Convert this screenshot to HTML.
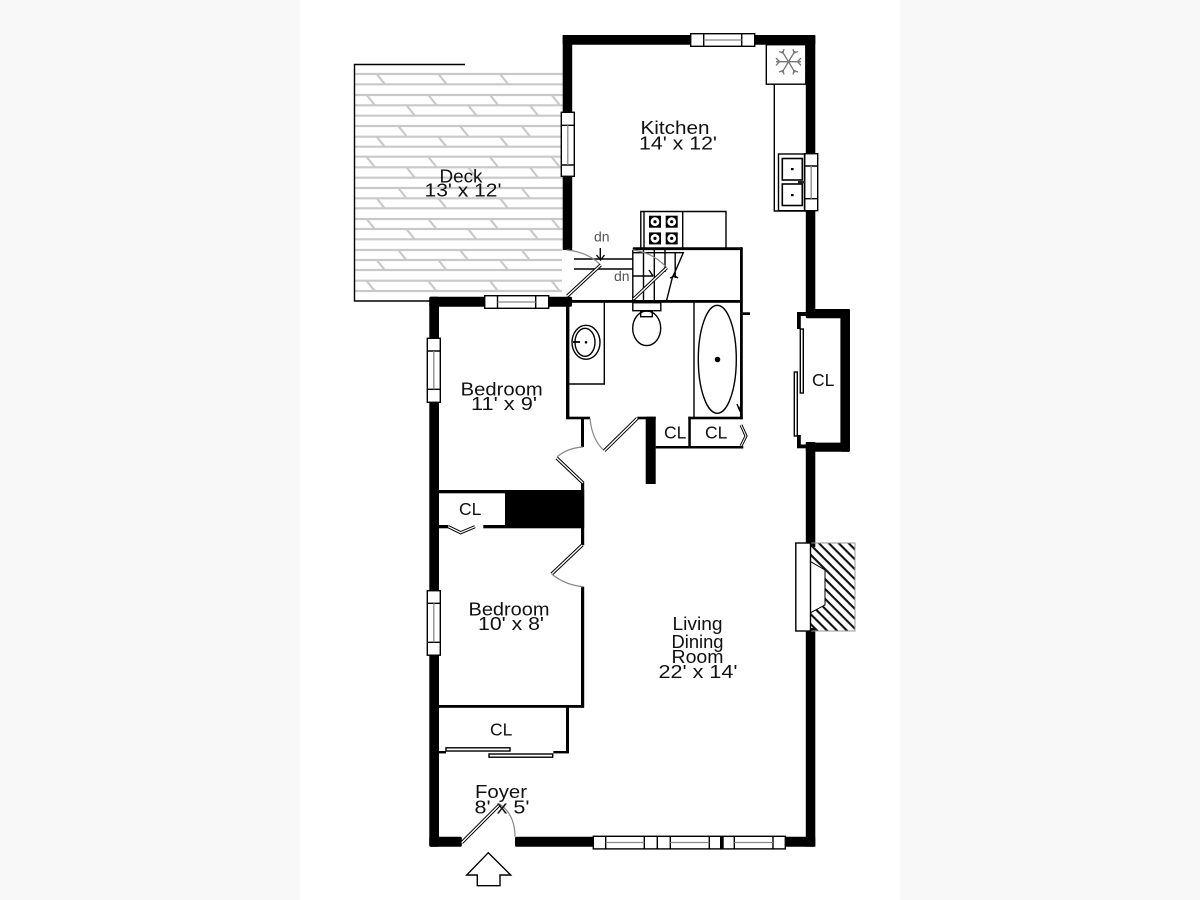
<!DOCTYPE html>
<html><head><meta charset="utf-8"><title>Floor plan</title>
<style>
html,body{margin:0;padding:0;background:#f8f8f8;width:1200px;height:900px;overflow:hidden}
svg{display:block;filter:blur(.3px)}
text{font-family:"Liberation Sans",sans-serif;font-size:18.5px;fill:#111;text-anchor:middle}
.cl{font-size:17.5px;text-anchor:start}
.dn{font-size:14px;fill:#555;text-anchor:start}
.t{fill:none;stroke:#000;stroke-width:1.4}
.a{fill:none;stroke:#888;stroke-width:1.2}
.w{fill:#fff;stroke:#000;stroke-width:1.4}
.g{stroke:#c9c9c9;stroke-width:2.2;fill:none}
</style></head><body>
<svg width="1200" height="900" viewBox="0 0 1200 900" xmlns="http://www.w3.org/2000/svg">
<defs>
<pattern id="h" width="7" height="7" patternUnits="userSpaceOnUse" patternTransform="rotate(45)"><rect width="7" height="2.1" fill="#111"/></pattern>
</defs>
<rect x="0" y="0" width="1200" height="900" fill="#f8f8f8"/>
<rect x="300" y="0" width="600" height="900" fill="#fff"/>

<!-- deck boards -->
<path class="g" d="M355 74H563M355 84.3H563M355 95H563M355 105.3H563M355 115.7H563M355 126H563M355 136.7H563M355 146.7H563M355 156.7H563M355 167.3H563M355 177.7H563M355 188H563M355 198.3H563M355 208.3H563M355 219H563M355 229H563M355 239.3H563M355 250H562M355 260H562M355 270H562M355 280.7H562M355 291H562"/>
<path class="g" d="M376.7 74l8 10M438.4 74l8 10M500 74l8 10
M366.7 95l8 10M428.4 95l8 10M490 95l8 10M551.7 95l8 10
M406.7 105.5l8 10M468.4 105.5l8 10M530 105.5l8 10
M398.3 126l8 10M460 126l8 10M521.7 126l8 10
M376.7 136.7l8 10M438.4 136.7l8 10M500 136.7l8 10
M366.7 157l8 10M428.4 157l8 10M490 157l8 10M551.7 157l8 10
M406.7 167.5l8 10M468.4 167.5l8 10M530 167.5l8 10
M398.3 188l8 10M460 188l8 10M521.7 188l8 10
M376.7 198.3l8 10M438.4 198.3l8 10M500 198.3l8 10
M366.7 219l8 10M428.4 219l8 10M490 219l8 10M551.7 219l8 10
M406.7 229.3l8 10M468.4 229.3l8 10M530 229.3l8 10
M398.3 250l8 10M460 250l8 10M521.7 250l8 10
M376.7 260l8 10M438.4 260l8 10M500 260l8 10
M366.7 281l8 10M428.4 281l8 10M490 281l8 10M551.7 281l8 10"/>
<path class="t" d="M465 64.5H354.5V301H430"/>

<!-- thick walls -->
<g fill="#000">
<rect x="562.7" y="35" width="252.6" height="9.7" rx="1.5"/>
<rect x="562.7" y="35" width="9.5" height="215"/>
<rect x="805.8" y="35" width="9.5" height="276"/>
<rect x="805.8" y="309" width="44.2" height="9.2" rx="1.5"/>
<rect x="840.4" y="309" width="9.6" height="142.7" rx="1.5"/>
<rect x="805.8" y="442.6" width="44.2" height="9.2" rx="1.5"/>
<rect x="797" y="312" width="10" height="4"/>
<rect x="797" y="312" width="3.8" height="17"/>
<rect x="797" y="435" width="3.8" height="13"/>
<rect x="797" y="444.5" width="10" height="3.8"/>
<rect x="805.8" y="442" width="9.5" height="105"/>
<rect x="805.8" y="628" width="9.5" height="218.7"/>
<rect x="429.3" y="836.8" width="32.5" height="9.9" rx="1.5"/>
<rect x="515" y="836.8" width="300.3" height="9.9" rx="1.5"/>
<rect x="429.3" y="296.7" width="9.7" height="550" rx="1.5"/>
<rect x="429.3" y="296.7" width="142.7" height="10" rx="1.5"/>
<circle cx="568" cy="301" r="4.5"/>
<!-- bath walls -->
<rect x="566" y="300" width="176.7" height="2.8"/>
<rect x="566" y="300" width="3.4" height="119"/>
<rect x="566" y="416.7" width="24" height="2.6"/>
<rect x="637.3" y="416.7" width="18.4" height="2.6"/>
<rect x="645.7" y="416.7" width="10" height="67.3"/>
<rect x="632.7" y="247.3" width="110" height="2.8" rx="1"/>
<rect x="740" y="247.3" width="2.8" height="172"/>
<rect x="742.7" y="312.3" width="7.3" height="2.7"/>
<rect x="688.3" y="416.7" width="54.4" height="2.6"/>
<rect x="688.3" y="416.7" width="2.5" height="31.6"/>
<rect x="655.7" y="446" width="87.6" height="2.5"/>
<!-- interior -->
<rect x="581" y="418" width="3" height="29"/>
<rect x="581" y="481.7" width="3.2" height="63.5"/>
<rect x="505" y="490" width="79.2" height="38.3"/>
<rect x="439" y="490" width="66" height="3.3"/>
<rect x="439" y="525" width="9.3" height="3.3"/>
<rect x="483.3" y="525" width="22" height="3.3"/>
<rect x="581" y="586.7" width="3.2" height="121"/>
<rect x="439" y="705" width="145" height="2.8"/>
<rect x="566" y="705" width="3" height="48.3"/>
<rect x="553.3" y="751" width="15.7" height="2.4"/>
<rect x="439" y="751" width="7" height="2.4"/>
</g>

<!-- windows -->
<g>
<rect class="w" x="690.7" y="33.7" width="64" height="12.6"/>
<path class="t" d="M703.7 33.7V46.3M741.7 33.7V46.3"/><path d="M703.7 40H741.7" stroke="#888" stroke-width="1.3"/>
<rect class="w" x="561.3" y="112.3" width="13" height="64"/>
<path class="t" d="M561.3 125.3H574.3M561.3 165H574.3"/><path d="M567.8 125.3V165" stroke="#888" stroke-width="1.3"/>
<rect class="w" x="804.7" y="153.7" width="13" height="57"/>
<path class="t" d="M804.7 166H817.7M804.7 198.7H817.7"/><path d="M811.2 166V198.7" stroke="#888" stroke-width="1.3"/>
<rect class="w" x="484.7" y="295.7" width="64" height="12.6"/>
<path class="t" d="M497.5 295.7V308.3M535.7 295.7V308.3"/><path d="M497.5 302H535.7" stroke="#888" stroke-width="1.3"/>
<rect class="w" x="427.3" y="338.3" width="13" height="64"/>
<path class="t" d="M427.3 351H440.3M427.3 389.3H440.3"/><path d="M433.8 351V389.3" stroke="#888" stroke-width="1.3"/>
<rect class="w" x="427.3" y="590.7" width="13" height="64.5"/>
<path class="t" d="M427.3 603.3H440.3M427.3 642.3H440.3"/><path d="M433.8 603.3V642.3" stroke="#888" stroke-width="1.3"/>
<rect class="w" x="593.3" y="836.3" width="192" height="12.6"/>
<path class="t" d="M605.7 836.3V848.9M644.3 836.3V848.9M657.3 836.3V848.9M670.3 836.3V848.9M709.3 836.3V848.9M720.7 836.3V848.9M723 836.3V848.9M734.3 836.3V848.9M773 836.3V848.9"/>
<path d="M605.7 842.5H644.3M670.3 842.5H709.3M734.3 842.5H773" stroke="#888" stroke-width="1.3"/>
<rect x="720.7" y="836.3" width="2.6" height="12.6" fill="#000"/>
</g>

<!-- kitchen fixtures -->
<rect class="t" x="766.3" y="44.7" width="39.5" height="39.5"/>
<g stroke="#777" stroke-width="1.3" fill="none">
<path d="M776 61.7H801M782 51L795 72.5M795 51L782 72.5"/>
<path d="M776 58l3.5 3.7-3.5 3.7M801 58l-3.5 3.7 3.5 3.7M779 51.5l4 1.5 1-4M798 51.5l-4 1.5-1-4M779 72l4-1.5 1 4M798 72l-4-1.5-1 4"/>
</g>
<path class="t" d="M774.3 84V211H806"/>
<rect class="t" x="778.5" y="154" width="26" height="56.7"/>
<rect x="782.3" y="158.5" width="20" height="21.5" fill="#fff" stroke="#000" stroke-width="1.6"/>
<rect x="782.3" y="184" width="20" height="21.5" fill="#fff" stroke="#000" stroke-width="1.6"/>
<rect x="791" y="168" width="2.6" height="2.2" fill="#000"/>
<rect x="791" y="194" width="2.6" height="2.2" fill="#000"/>
<rect x="798" y="181" width="7.5" height="2.4" fill="#222"/>
<!-- stove -->
<path class="t" d="M682.7 211.5H726V248M640.8 248V211.5H682.7V248M644 211.5V248"/>
<g fill="#000">
<rect x="649" y="215.7" width="12" height="12"/><rect x="665.7" y="215.7" width="12" height="12"/>
<rect x="649" y="232.4" width="12" height="12"/><rect x="665.7" y="232.4" width="12" height="12"/>
</g>
<g fill="#fff"><circle cx="655" cy="221.7" r="4.4"/><circle cx="671.7" cy="221.7" r="4.4"/><circle cx="655" cy="238.4" r="4.4"/><circle cx="671.7" cy="238.4" r="4.4"/></g>
<g fill="#000"><circle cx="655" cy="221.7" r="1.6"/><circle cx="671.7" cy="221.7" r="1.6"/><circle cx="655" cy="238.4" r="1.6"/><circle cx="671.7" cy="238.4" r="1.6"/></g>

<!-- stairs -->
<path class="t" d="M632.8 250V300M643.5 250V300M654.3 250V300M665 250V272M675.2 252V278M632.8 252.7H683.3L675 272 672.5 277 666.7 300"/>
<path class="t" d="M632.8 276H653M649 270l4 6M670 278l5-2 3 2"/>
<path class="t" d="M574 259H632.8M574 269H632.8M600.3 248V260M596.5 255l4 5 4-5"/>
<!-- deck door -->
<path class="a" d="M566.7 250Q588 252 600.7 265"/>
<path d="M567.3 296L600.7 265" stroke="#000" stroke-width="3.4"/><path d="M567.3 296L600.7 265" stroke="#fff" stroke-width="1.4"/>
<!-- stair door -->
<path class="a" d="M633 250Q654 253 666.7 267.7"/>
<path d="M633.3 299.3L666.7 267.7" stroke="#000" stroke-width="3.4"/><path d="M633.3 299.3L666.7 267.7" stroke="#fff" stroke-width="1.4"/>

<!-- bath -->
<path class="t" d="M604.3 302.5V384H569.3"/>
<path class="t" d="M694 302.5V417"/>
<ellipse class="t" cx="586" cy="342.3" rx="14" ry="17"/>
<ellipse class="t" cx="585" cy="342.3" rx="10" ry="14"/>
<circle cx="586" cy="342.3" r="1.3" fill="#000"/>
<path d="M573 342H580" stroke="#000" stroke-width="1.8"/>
<rect class="t" x="632.8" y="302.7" width="28" height="8" fill="#fff"/>
<rect class="t" x="640.7" y="311" width="11.6" height="5.7"/>
<ellipse class="t" cx="646.7" cy="328.3" rx="14" ry="17.3"/>
<ellipse class="t" cx="717.3" cy="359.3" rx="19" ry="54"/>
<circle cx="717.5" cy="359.5" r="2.8" fill="#000"/>
<path class="t" d="M737 404l2.5 6 1-4"/>

<!-- doors -->
<path class="a" d="M590 418.3Q592 440 604.3 450.7"/>
<path d="M604.3 450.7L637.3 418.3" stroke="#000" stroke-width="3.4"/><path d="M604.3 450.7L637.3 418.3" stroke="#fff" stroke-width="1.4"/>
<path class="a" d="M583 447Q567 448 557 457"/>
<path d="M556.7 458L583 483" stroke="#000" stroke-width="3.4"/><path d="M556.7 458L583 483" stroke="#fff" stroke-width="1.4"/>
<path d="M582.3 545L551.7 574" stroke="#000" stroke-width="3.4"/><path d="M582.3 545L551.7 574" stroke="#fff" stroke-width="1.4"/>
<path class="a" d="M551.7 574Q565 585 583 586.7"/>
<path d="M448.3 526.7L460.7 532.7 475 526.7" stroke="#000" stroke-width="3.2" fill="none"/><path d="M448.3 526.7L460.7 532.7 475 526.7" stroke="#fff" stroke-width="1.2" fill="none"/>
<path d="M741 425L746 436 741 446" stroke="#000" stroke-width="3" fill="none"/><path d="M741 425L746 436 741 446" stroke="#fff" stroke-width="1" fill="none"/>
<path d="M461.7 842.7L500 804.3" stroke="#000" stroke-width="3.4"/><path d="M461.7 842.7L500 804.3" stroke="#fff" stroke-width="1.4"/>
<path class="a" d="M500 804.3Q515 815 515 836.7"/>

<!-- sliding doors -->
<rect class="w" x="446" y="747.8" width="64" height="3.2"/>
<rect class="w" x="489" y="754" width="63.7" height="3.2"/>
<rect class="w" x="800.3" y="329" width="3" height="64" stroke-width="1.1"/>
<rect class="w" x="794.3" y="372" width="3" height="64" stroke-width="1.1"/>

<!-- fireplace -->
<rect x="810.3" y="542.7" width="44.7" height="88.6" fill="url(#h)"/>
<path d="M810.3 543H855V631H810.3" fill="none" stroke="#999" stroke-width="1"/>
<rect class="w" x="795.8" y="543" width="14.7" height="88"/>
<path d="M810.7 561.7L825 570V605L810.7 612.7Z" fill="#fff" stroke="#000" stroke-width="1"/>

<!-- entry arrow -->
<path d="M488.3 852.7L510.7 875H500V885.7H477.3V875H466.7Z" fill="#fff" stroke="#000" stroke-width="1.4"/>

<!-- labels -->
<text x="461" y="182.3" textLength="43" lengthAdjust="spacingAndGlyphs">Deck</text>
<text x="463" y="196.7" textLength="77" lengthAdjust="spacingAndGlyphs">13' x 12'</text>
<text x="675" y="134" textLength="69" lengthAdjust="spacingAndGlyphs">Kitchen</text>
<text x="678" y="149.3" textLength="78" lengthAdjust="spacingAndGlyphs">14' x 12'</text>
<text x="501.7" y="395.7" textLength="82" lengthAdjust="spacingAndGlyphs">Bedroom</text>
<text x="504" y="410" textLength="66" lengthAdjust="spacingAndGlyphs">11' x 9'</text>
<text x="509" y="615.7" textLength="81" lengthAdjust="spacingAndGlyphs">Bedroom</text>
<text x="511" y="630" textLength="66" lengthAdjust="spacingAndGlyphs">10' x 8'</text>
<text x="697.5" y="630" textLength="50" lengthAdjust="spacingAndGlyphs">Living</text>
<text x="697.5" y="648" textLength="52" lengthAdjust="spacingAndGlyphs">Dining</text>
<text x="697.5" y="663" textLength="52" lengthAdjust="spacingAndGlyphs">Room</text>
<text x="698" y="678" textLength="79" lengthAdjust="spacingAndGlyphs">22' x 14'</text>
<text x="501" y="798" textLength="52" lengthAdjust="spacingAndGlyphs">Foyer</text>
<text x="502" y="813.3" textLength="55" lengthAdjust="spacingAndGlyphs">8' x 5'</text>
<text class="cl" x="664" y="438.3">CL</text>
<text class="cl" x="705" y="438.3">CL</text>
<text class="cl" x="812" y="386">CL</text>
<text class="cl" x="459" y="515">CL</text>
<text class="cl" x="490" y="735.7">CL</text>
<text class="dn" x="594" y="241.7">dn</text>
<text class="dn" x="614" y="281">dn</text>
</svg>
</body></html>
